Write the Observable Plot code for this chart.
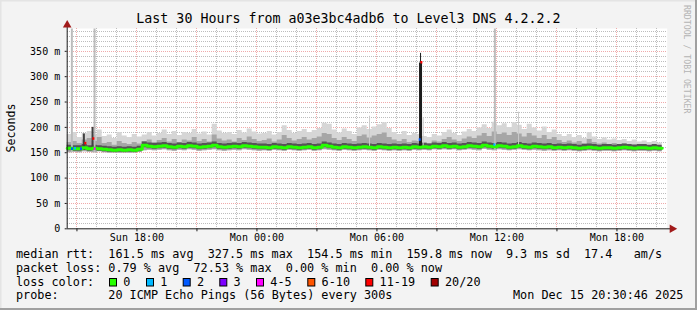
<!DOCTYPE html>
<html><head><meta charset="utf-8">
<script src="https://cdn.jsdelivr.net/npm/d3@7"></script>
<script src="https://cdn.jsdelivr.net/npm/@observablehq/plot@0.6"></script>
<style>
html,body{margin:0;padding:0;background:#f3f3f3}
#wrap{position:relative;width:697px;height:310px;background:#f3f3f3;overflow:hidden}
#wrap svg{position:absolute;left:0;top:0}
</style></head>
<body><div id="wrap"></div>
<script>
// ---- data ----
const startTime = Date.UTC(2025, 11, 14, 14, 30, 46); // Sun 14:30:46
const endTime = Date.UTC(2025, 11, 15, 20, 30, 46);   // Mon 20:30:46
const stepMin = 15;

const med = [159,158,158,160,158,159,158,
  157,156,155,156,155,156,155,157,
  165,163,162,163,164,162,161,163,162,164,163,161,162,163,165,162,161,162,163,162,164,163,162,161,
  161,160,162,161,160,162,161,160,161,162,160,161,165,163,161,160,162,161,160,161,162,161,160,162,161,160,161,160,161,160,162,
  161,
  162,161,163,162,164,162,163,161,162,164,163,162,165,163,162,164,163,161,162,164,162,161,163,162,161,162,160,161,
  160,161,160,159,160,161,160,159,160,160,159,160,161,160,159,160,160,159,160,159];
const lo = [150,151,150,152,151,150,152,
  150,149,150,149,150,149,150,151,
  154,155,154,155,156,154,153,155,154,156,155,153,154,155,156,154,153,154,155,154,156,155,154,153,
  154,153,155,154,153,155,154,153,154,155,153,154,156,155,154,153,155,154,153,154,155,154,153,155,154,153,154,153,154,153,155,
  154,
  155,154,156,155,156,155,156,154,155,156,155,154,157,155,154,156,155,154,155,156,155,154,155,154,153,154,153,154,
  153,154,153,152,153,154,153,152,153,153,152,153,154,153,152,153,153,152,153,152];
const mid = [170,172,168,175,178,172,180,
  168,170,165,172,168,166,170,167,
  172,175,170,174,178,171,176,170,175,173,180,172,176,171,185,177,173,175,171,178,174,181,176,172,
  174,177,171,175,184,178,173,176,180,175,178,181,188,186,178,174,180,176,172,182,185,179,183,186,189,180,175,172,176,170,173,
  172,
  170,168,173,171,176,180,175,172,177,181,178,183,188,182,191,186,189,184,190,187,181,188,183,178,184,176,180,174,
  170,173,169,172,168,176,170,167,169,166,168,165,167,164,166,163,165,162,164,162];
const hi = [186,190,180,188,192,185,195,
  182,185,178,190,183,180,186,181,
  185,190,183,188,195,186,192,184,190,188,196,187,191,185,206,193,188,190,186,194,189,197,191,187,
  188,192,185,190,203,194,188,192,196,190,194,198,208,206,195,189,197,192,186,199,203,196,201,205,209,198,190,186,192,184,188,
  186,
  182,180,186,183,190,195,188,184,191,196,192,199,205,198,210,203,207,200,209,204,196,206,199,193,201,190,195,186,
  182,186,180,184,178,190,181,176,179,175,177,174,176,172,175,171,173,170,172,169];

// isolated spikes: minutes after start, low ms, high ms, kind
const spikeMin  = [14, 82, 50, 76, 907, 1060, 1060, 1068, 1283, 1354];
const spikeLow  = [150, 150, 155, 155, 160, 158, 327, 160, 155, 160];
const spikeHigh = [394, 394, 187, 200, 222, 327, 346, 219, 394, 230];
const spikeKind = ["light","light","dark","dark","faint","black","thin","faint","light","faint"];

// median samples with packet loss: minutes after start, median ms, loss class
const lossMin = [13, 22, 40, 53, 77, 81, 1056, 1061, 1280];
const lossVal = [157, 158, 157, 168, 177, 157, 175, 327.5, 165];
const lossCat = ["2","1","2","11-19","11-19","4-5","2","11-19","1"];

const lossLabels = ["0","1","2","3","4-5","6-10","11-19","20/20"];
const lossColors = ["#26ff00","#00b8ff","#0059ff","#7e00ff","#ff00ff","#ff5500","#ff0000","#a10000"];

const yTickValues = [0,50,100,150,200,250,300,350];
const title = "Last 30 Hours from a03e3bc4adb6 to Level3 DNS 4.2.2.2";
const yLabel = "Seconds";
const watermark = "RRDTOOL / TOBI OETIKER";
// legend pieces: [text, column]
const legendRows = [
  [["median rtt:",0],["161.5 ms avg",13],["327.5 ms max",27],["154.5 ms min",41],["159.8 ms now",55],["9.3 ms sd",69],["17.4",80],["am/s",87]],
  [["packet loss:",0],["0.79 % avg",13],["72.53 % max",25],["0.00 % min",38],["0.00 % now",50]],
  [["loss color:",0]],
  [["probe:",0],["20 ICMP Echo Pings (56 Bytes) every 300s",13],["Mon Dec 15 20:30:46 2025",70]]
];
const lossBoxX = [109,146,182.7,219.3,256,307.3,365.3,430.7];

// ---- build ----
const MIN = 60000;
const bins = med.map((m, i) => ({t: new Date(startTime + i*stepMin*MIN), med: m, lo: lo[i], mid: mid[i], hi: hi[i]}));
const last = bins[bins.length-1];
bins.push({...last, t: new Date(startTime + bins.length*stepMin*MIN)});

const spikes = spikeMin.map((m,i)=>({t: new Date(startTime + m*MIN), lo: spikeLow[i], hi: spikeHigh[i], kind: spikeKind[i]}));
const kindColor = {light:"#bcbcbc", faint:"#cacaca", dark:"#404040", black:"#1c1c1c", thin:"#1c1c1c"};
const kindWidth = {light:2, faint:1, dark:2, black:3, thin:1};
const losses = lossMin.map((m,i)=>({t1: new Date(startTime + m*MIN), t2: new Date(startTime + (m+6)*MIN), v: lossVal[i], c: lossColors[lossLabels.indexOf(lossCat[i])]}));

const hourTicks = d3.utcHour.every(1).range(new Date(startTime), new Date(endTime));
const minorX = hourTicks.filter(d => d.getUTCHours() % 3 !== 0);
const majorX = hourTicks.filter(d => d.getUTCHours() % 3 === 0);
const labelX = hourTicks.filter(d => d.getUTCHours() % 6 === 0);
const minorY = d3.range(10, 395, 10).filter(v => v % 50 !== 0);
const majorY = d3.range(50, 395, 50);

const fmt = d3.utcFormat("%a %H:%M");
const x0 = new Date(startTime), x1 = new Date(endTime);
const gridStyle = {strokeOpacity: 1, strokeDasharray: "1,1", shapeRendering: "crispEdges"};

const chart = Plot.plot({
  width: 697, height: 250,
  marginLeft: 66.7, marginRight: 30.3, marginTop: 28, marginBottom: 21.7,
  x: {type: "utc", domain: [x0, x1]},
  y: {domain: [0, 395]},
  color: {type: "identity"},
  style: {fontFamily: "'DejaVu Sans Mono', monospace", fontSize: "10px", color: "#000", background: "transparent", overflow: "visible"},
  marks: [
    Plot.frame({fill: "#ffffff", stroke: "none"}),
    Plot.gridY(minorY, {stroke: "#bdbdbd", ...gridStyle}),
    Plot.gridX(minorX, {stroke: "#bdbdbd", ...gridStyle}),
    Plot.gridY(majorY, {stroke: "#f0aaaa", ...gridStyle}),
    Plot.gridX(majorX, {stroke: "#f0aaaa", ...gridStyle}),
    Plot.areaY(bins, {x: "t", y1: "lo", y2: "hi", curve: "step-after", fill: "#d6d6d6"}),
    Plot.areaY(bins, {x: "t", y1: "lo", y2: "mid", curve: "step-after", fill: "#a6a6a6"}),
    Plot.areaY(bins, {x: "t", y1: d => d.med - 5, y2: d => d.med + 6, curve: "step-after", fill: "#555555"}),
    Plot.ruleX(spikes, {x: "t", y1: "lo", y2: "hi", stroke: d => kindColor[d.kind], strokeWidth: d => kindWidth[d.kind]}),
    Plot.line(bins, {x: "t", y: "med", curve: "step-after", stroke: "#26ff00", strokeWidth: 3}),
    Plot.rect(losses, {x1: "t1", x2: "t2", y1: d => d.v - 2.5, y2: d => d.v + 2.5, fill: "c"}),
    Plot.ruleY([0], {x1: x0, x2: new Date(endTime + 10*MIN), stroke: "#1a1a1a"}),
    Plot.ruleX([x0], {y1: 0, y2: 400, stroke: "#1a1a1a"}),
    Plot.axisY(yTickValues, {anchor: "left", tickSize: 2, tickPadding: 5, label: null, stroke: "#1a1a1a",
      tickFormat: d => d === 0 ? "0" : d + " m"}),
    Plot.axisX(majorX, {anchor: "bottom", tickSize: 3, tickFormat: () => "", label: null, stroke: "#1a1a1a"}),
    Plot.axisX(labelX, {anchor: "bottom", tickSize: 0, tickPadding: 5, tickFormat: fmt, label: null}),
    Plot.dot([x0], {x: d => d, y: 402, symbol: "triangle", r: 3.2, fill: "#a11a1a", stroke: "none"}),
    Plot.dot([x1], {x: d => new Date(endTime + 15*MIN), y: 0, symbol: "triangle", rotate: 90, r: 3.2, fill: "#a11a1a", stroke: "none"})
  ]
});

const wrap = document.getElementById("wrap");
wrap.appendChild(chart);

// text overlay
const ov = d3.select(wrap).append("svg").attr("width", 697).attr("height", 310)
  .style("font-family", "'DejaVu Sans Mono', monospace").attr("fill", "#000");
ov.append("text").attr("x", 348.5).attr("y", 23.3).attr("text-anchor", "middle").attr("font-size", "13.3px").text(title);
ov.append("text").attr("transform", "translate(15,128) rotate(-90)").attr("text-anchor", "middle").attr("font-size", "11.6px").text(yLabel);
ov.append("text").attr("transform", "translate(684,5) rotate(90)").attr("font-size", "8.2px").attr("fill", "#b4b4b4").text(watermark);
const rowY = [258.3, 271.7, 285.6, 299.3];
const colW = 7.1, legX = 16;
legendRows.forEach((row, r) => row.forEach(([s, c]) => {
  ov.append("text").attr("x", legX + c*colW).attr("y", rowY[r]).attr("font-size", "11.8px").text(s);
}));
lossLabels.forEach((lab, i) => {
  ov.append("rect").attr("x", lossBoxX[i] + 0.5).attr("y", 278.5).attr("width", 7).attr("height", 7.5)
    .attr("fill", lossColors[i]).attr("stroke", "#000").attr("stroke-width", 1);
  ov.append("text").attr("x", lossBoxX[i] + 14.3).attr("y", rowY[2]).attr("font-size", "11.8px").text(lab);
});
// bevel border
ov.append("rect").attr("x", 0).attr("y", 0).attr("width", 697).attr("height", 1.5).attr("fill", "#e4e4e4");
ov.append("rect").attr("x", 0).attr("y", 0).attr("width", 1.5).attr("height", 310).attr("fill", "#e4e4e4");
ov.append("rect").attr("x", 695).attr("y", 0).attr("width", 2).attr("height", 310).attr("fill", "#a0a0a0");
ov.append("rect").attr("x", 0).attr("y", 308).attr("width", 697).attr("height", 2).attr("fill", "#a0a0a0");
</script>
</body></html>
